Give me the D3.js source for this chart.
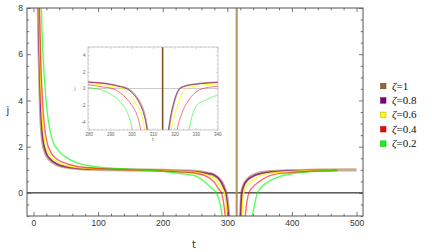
<!DOCTYPE html>
<html>
<head>
<meta charset="utf-8">
<script src="https://cdn.jsdelivr.net/npm/d3@7"></script>
<style>
  body { margin: 0; background: #fff; }
  svg { display: block; font-family: "DejaVu Sans", sans-serif; }
</style>
</head>
<body>
<div id="chart"></div>
<script>
'use strict';

// ------------------------------------
// DATA
// ------------------------------------
const zetaLabels = ["1", "0.8", "0.6", "0.4", "0.2"];
const seriesColors = ["#996633", "#800080", "#ffff00", "#ff0000", "#00ff00"];

// [t, j] pairs, null marks the break at the pole
const zeta10 = [
  [6, 12], [7.6, 8], [8.8, 6], [10.5, 4], [14, 2.3], [19, 1.7], [25, 1.45], [36, 1.22],
  [50, 1.12], [67, 1.06], [100, 1.02], [150, 1.0], [200, 0.97], [250, 0.93], [270, 0.85],
  [280, 0.76], [290, 0.52], [295, 0.25], [298, 0], [301, -0.6], [304, -1.7], [306, -3.0],
  [307.5, -5], [308.5, -7.5],
  null,
  [316.5, -7.5], [317.5, -5], [318.5, -3.3], [320, -1.6], [322.5, 0], [325, 0.3], [330, 0.55],
  [340, 0.76], [360, 0.9], [400, 0.96], [450, 0.99], [500, 1.0]
];
const zeta08 = [
  [6.2, 12], [7.9, 8], [9.1, 6], [10.9, 4], [14.6, 2.3], [20, 1.7], [26, 1.46], [38, 1.23],
  [52, 1.12], [70, 1.06], [100, 1.03], [150, 1.0], [200, 0.97], [250, 0.92], [270, 0.84],
  [280, 0.77], [290, 0.5], [295, 0.2], [297.5, 0], [300.5, -0.6], [303.7, -1.8], [305.7, -3.1],
  [307.2, -5], [308.2, -7.5],
  null,
  [316.2, -7.5], [317.2, -5], [318.2, -3.4], [319.7, -1.7], [322.5, 0], [325, 0.28], [330, 0.52],
  [340, 0.72], [360, 0.88], [400, 0.95], [470, 0.99]
];
const zeta06 = [
  [6.6, 12], [8.5, 8], [9.9, 6], [12.2, 4], [17, 2.3], [23.5, 1.7], [31, 1.45], [44, 1.24],
  [60, 1.13], [80, 1.07], [110, 1.03], [150, 1.0], [200, 0.96], [250, 0.89], [270, 0.76],
  [280, 0.62], [290, 0.25], [295.5, 0], [299, -0.7], [302.5, -2.0], [304.6, -3.2],
  [306.1, -5], [307.1, -7.5],
  null,
  [317.5, -7.5], [318.6, -5], [320, -3.3], [322, -1.6], [325.3, 0], [330, 0.3], [340, 0.56],
  [360, 0.82], [400, 0.93], [470, 0.98]
];
const zeta04 = [
  [7.2, 12], [9.3, 8], [11, 6], [14, 4], [20, 2.3], [28, 1.7], [36, 1.47], [50, 1.28],
  [66, 1.16], [85, 1.09], [120, 1.03], [160, 1.0], [200, 0.95], [250, 0.85], [270, 0.68],
  [280, 0.45], [286, 0.2], [291, 0], [296, -0.8], [300, -2.0], [302.5, -3.2],
  [304.2, -5], [305.3, -7.5],
  null,
  [320, -7.5], [321.3, -5], [323.5, -3.0], [327, -1.3], [333.4, 0], [340, 0.26], [350, 0.5],
  [370, 0.78], [400, 0.88], [470, 0.97]
];
const zeta02 = [
  [9.5, 12], [12.2, 8], [14.8, 6], [19.5, 4], [28, 2.4], [38, 1.85], [50, 1.55], [68, 1.3],
  [100, 1.12], [140, 1.04], [200, 0.93], [230, 0.83], [250, 0.74], [265, 0.48], [275, 0.22],
  [283, 0], [290, -0.65], [295, -1.7], [298, -2.9], [300.3, -5], [301.5, -7.5],
  null,
  [325.5, -7.5], [326.9, -5], [330.3, -2.1], [335, -1.35], [340, -0.8], [345, -0.15],
  [350, 0.15], [360, 0.42], [380, 0.7], [400, 0.83], [430, 0.92], [470, 0.97]
];
const allSeries = [zeta10, zeta08, zeta06, zeta04, zeta02];

// the brown jump drawn across the pole
const poleT = 314.5;

const xTicks = [0, 100, 200, 300, 400, 500];
const yTicks = [0, 2, 4, 6, 8];
const insetXTicks = [280, 290, 300, 310, 320, 330, 340];
const insetYTicks = [-4, -2, 0, 2, 4];

// ------------------------------------
// SETUP
// ------------------------------------
const width = 432;
const height = 252;
const frame = { left: 27, right: 363, top: 8, bottom: 216 };
const box = { left: 88, right: 218, top: 47, bottom: 130 };

const svg = d3.select("#chart")
  .append("svg")
  .attr("width", width)
  .attr("height", height);

const x = d3.scaleLinear().domain([-10, 510]).range([frame.left, frame.right]);
const y = d3.scaleLinear().domain([-1, 8]).range([frame.bottom, frame.top]);

const xi = d3.scaleLinear().domain([279.6, 340.4]).range([box.left, box.right]);
const yi = d3.scaleLinear().domain([-5, 5]).range([box.bottom, box.top]);

// line styles (main / inset)
const mainStyle = [
  { w: 3.2, o: 0.55 }, { w: 1.5, o: 0.75 }, { w: 1.4, o: 0.85 }, { w: 1.4, o: 0.6 }, { w: 1.4, o: 0.65 }
];
const insetStyle = [
  { w: 1.6, o: 0.55 }, { w: 0.9, o: 0.7 }, { w: 0.9, o: 0.9 }, { w: 0.9, o: 0.6 }, { w: 0.9, o: 0.6 }
];

const defs = svg.append("defs");
defs.append("clipPath").attr("id", "clip-main").append("rect")
  .attr("x", frame.left).attr("y", frame.top)
  .attr("width", frame.right - frame.left).attr("height", frame.bottom - frame.top);
defs.append("clipPath").attr("id", "clip-inset").append("rect")
  .attr("x", box.left).attr("y", box.top)
  .attr("width", box.right - box.left).attr("height", box.bottom - box.top);

// ------------------------------------
// FRAME TICKS (inward, all four sides)
// ------------------------------------
function frameAxes(g, xs, ys, o) {
  const [x0, x1] = xs.range();
  const [y0, y1] = ys.range();
  const fmt = o.fmt || (d => d);

  g.append("g").attr("transform", `translate(0,${y0})`)
    .call(d3.axisBottom(xs).tickValues(o.xMinor).tickSize(-o.minor).tickFormat(""));
  g.append("g").attr("transform", `translate(0,${y0})`)
    .call(d3.axisBottom(xs).tickValues(o.xMajor).tickSize(-o.major).tickPadding(o.pad).tickFormat(fmt));
  g.append("g").attr("transform", `translate(0,${y1})`)
    .call(d3.axisTop(xs).tickValues(o.xMinor).tickSize(-o.minor).tickFormat(""));
  g.append("g").attr("transform", `translate(0,${y1})`)
    .call(d3.axisTop(xs).tickValues(o.xMajor).tickSize(-o.major).tickFormat(""));

  g.append("g").attr("transform", `translate(${x0},0)`)
    .call(d3.axisLeft(ys).tickValues(o.yMinor).tickSize(-o.minor).tickFormat(""));
  g.append("g").attr("transform", `translate(${x0},0)`)
    .call(d3.axisLeft(ys).tickValues(o.yMajor).tickSize(-o.major).tickPadding(o.pad).tickFormat(fmt));
  g.append("g").attr("transform", `translate(${x1},0)`)
    .call(d3.axisRight(ys).tickValues(o.yMinor).tickSize(-o.minor).tickFormat(""));
  g.append("g").attr("transform", `translate(${x1},0)`)
    .call(d3.axisRight(ys).tickValues(o.yMajor).tickSize(-o.major).tickFormat(""));

  g.selectAll(".domain").remove();
  g.selectAll(".tick line").attr("stroke", o.color).attr("stroke-width", o.tickW);
  g.selectAll(".tick text").attr("fill", o.textColor).attr("font-size", o.fontSize);

  g.append("rect")
    .attr("x", x0).attr("y", y1)
    .attr("width", x1 - x0).attr("height", y0 - y1)
    .attr("fill", "none")
    .attr("stroke", o.color)
    .attr("stroke-width", o.frameW);
}

const line = (xs, ys) => d3.line()
  .defined(d => d !== null)
  .x(d => xs(d[0]))
  .y(d => ys(d[1]))
  .curve(d3.curveMonotoneX);

// ------------------------------------
// MAIN PLOT
// ------------------------------------
const gMain = svg.append("g");

gMain.append("line")
  .attr("x1", frame.left).attr("x2", frame.right)
  .attr("y1", y(0)).attr("y2", y(0))
  .attr("stroke", "#000").attr("stroke-width", 1);

const gCurves = gMain.append("g").attr("clip-path", "url(#clip-main)");

gCurves.append("line")
  .attr("x1", x(poleT)).attr("x2", x(poleT))
  .attr("y1", y(-1)).attr("y2", y(8))
  .attr("stroke", "#b4925f").attr("stroke-width", 2);

gCurves.selectAll(".curve")
  .data(allSeries)
  .join("path")
  .attr("class", "curve")
  .attr("fill", "none")
  .attr("stroke", (d, i) => seriesColors[i])
  .attr("stroke-width", (d, i) => mainStyle[i].w)
  .attr("stroke-opacity", (d, i) => mainStyle[i].o)
  .attr("d", line(x, y));

frameAxes(gMain.append("g"), x, y, {
  xMajor: xTicks, xMinor: d3.range(-0, 510, 20).filter(v => v % 100 !== 0),
  yMajor: yTicks, yMinor: d3.range(-1, 8, 0.5).filter(v => v % 2 !== 0),
  major: 4, minor: 2.3, pad: 4, color: "#555", textColor: "#333",
  fontSize: "8.5px", tickW: 0.8, frameW: 1
});

gMain.append("text")
  .attr("x", 8).attr("y", 114)
  .attr("text-anchor", "middle")
  .attr("font-size", "10px")
  .attr("fill", "#333")
  .text("j");

gMain.append("text")
  .attr("x", 194).attr("y", 248)
  .attr("text-anchor", "middle")
  .attr("font-size", "10px")
  .attr("fill", "#333")
  .text("t");

// ------------------------------------
// INSET
// ------------------------------------
const gInset = svg.append("g");

gInset.append("rect")
  .attr("x", box.left).attr("y", box.top)
  .attr("width", box.right - box.left).attr("height", box.bottom - box.top)
  .attr("fill", "#fff");

gInset.append("line")
  .attr("x1", box.left).attr("x2", box.right)
  .attr("y1", yi(0)).attr("y2", yi(0))
  .attr("stroke", "#ccc").attr("stroke-width", 1);

const gInCurves = gInset.append("g").attr("clip-path", "url(#clip-inset)");

gInCurves.append("line")
  .attr("x1", xi(poleT)).attr("x2", xi(poleT))
  .attr("y1", yi(-5)).attr("y2", yi(5))
  .attr("stroke", "#7d5428").attr("stroke-width", 1.6);

gInCurves.selectAll(".curve")
  .data(allSeries)
  .join("path")
  .attr("class", "curve")
  .attr("fill", "none")
  .attr("stroke", (d, i) => seriesColors[i])
  .attr("stroke-width", (d, i) => insetStyle[i].w)
  .attr("stroke-opacity", (d, i) => insetStyle[i].o)
  .attr("d", line(xi, yi));

frameAxes(gInset.append("g"), xi, yi, {
  xMajor: insetXTicks, xMinor: d3.range(282, 340, 2).filter(v => v % 10 !== 0),
  yMajor: insetYTicks, yMinor: d3.range(-5, 5.1, 0.5).filter(v => v % 2 !== 0),
  major: 2.2, minor: 1.2, pad: 2.5, color: "#aaa", textColor: "#666",
  fontSize: "4.5px", tickW: 0.5, frameW: 0.6
});

gInset.append("text")
  .attr("x", 75).attr("y", 90)
  .attr("text-anchor", "middle")
  .attr("font-size", "5px")
  .attr("fill", "#666")
  .text("j");

gInset.append("text")
  .attr("x", 153).attr("y", 141)
  .attr("text-anchor", "middle")
  .attr("font-size", "5px")
  .attr("fill", "#666")
  .text("t");

// ------------------------------------
// LEGEND
// ------------------------------------
const legend = svg.append("g").attr("transform", "translate(380, 86)");

const rows = legend.selectAll(".row")
  .data(zetaLabels)
  .join("g")
  .attr("class", "row")
  .attr("transform", (d, i) => `translate(0, ${i * 14.4})`);

rows.append("rect")
  .attr("x", 0.5).attr("y", -2.7)
  .attr("width", 5.5).attr("height", 5.5)
  .attr("fill", (d, i) => seriesColors[i])
  .attr("stroke", (d, i) => d3.color(seriesColors[i]).darker(1.2))
  .attr("stroke-width", 0.5);

const labels = rows.append("text")
  .attr("x", 12).attr("y", 3.6)
  .attr("font-family", "'Liberation Serif', serif")
  .attr("font-size", "11px")
  .attr("fill", "#111");

labels.append("tspan").attr("font-style", "italic").text("ζ");
labels.append("tspan").text(d => "=" + d);
</script>
</body>
</html>
